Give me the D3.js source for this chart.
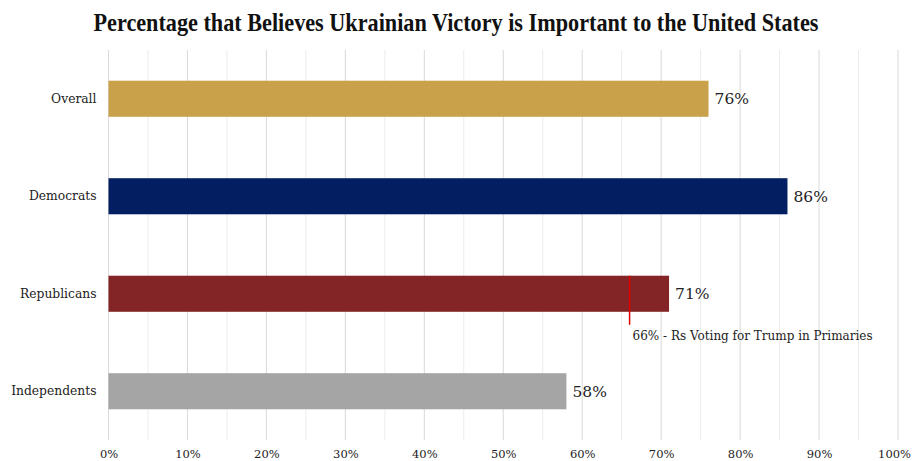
<!DOCTYPE html>
<html>
<head>
<meta charset="utf-8">
<script src="https://cdn.jsdelivr.net/npm/d3@7"></script>
<style>
  body { margin: 0; background: #fff; }
  text { font-family: "DejaVu Serif", serif; fill: #222; }
</style>
</head>
<body>
<div class="canvas"></div>
<script>
const categories = ['Overall', 'Democrats', 'Republicans', 'Independents'];
const values = [76, 86, 71, 58];
const colors = ['#C9A14A', '#031F62', '#832427', '#A5A5A5'];
const tickValues = [0, 10, 20, 30, 40, 50, 60, 70, 80, 90, 100];
const minorTicks = [5, 15, 25, 35, 45, 55, 65, 75, 85, 95];
const marker = {category: 'Republicans', value: 66, label: '66% - Rs Voting for Trump in Primaries'};
const title = 'Percentage that Believes Ukrainian Victory is Important to the United States';

const width = 912, height = 461;
const margin = {top: 50, right: 14, bottom: 21, left: 108.5};
const graphWidth = width - margin.left - margin.right;
const graphHeight = height - margin.top - margin.bottom;

const svg = d3.select('.canvas')
  .append('svg')
    .attr('width', width)
    .attr('height', height);

svg.append('text')
  .attr('x', width / 2)
  .attr('y', 31)
  .attr('text-anchor', 'middle')
  .attr('textLength', 725)
  .attr('lengthAdjust', 'spacingAndGlyphs')
  .style('font-family', '"Liberation Serif", serif')
  .style('font-weight', 'bold')
  .style('font-size', '25px')
  .style('fill', '#111')
  .text(title);

const graph = svg.append('g')
  .attr('transform', `translate(${margin.left}, ${margin.top})`);

const x = d3.scaleLinear()
  .domain([0, 100])
  .range([0, graphWidth]);

const y = d3.scaleBand()
  .domain(categories)
  .range([0, graphHeight])
  .paddingInner(0.63)
  .paddingOuter(0.315);

// gridlines
graph.selectAll('line.minor')
  .data(minorTicks)
  .enter().append('line')
    .attr('class', 'minor')
    .attr('x1', d => x(d)).attr('x2', d => x(d))
    .attr('y1', 0).attr('y2', graphHeight)
    .attr('stroke', '#ececec')
    .attr('stroke-width', 1);

graph.selectAll('line.major')
  .data(tickValues)
  .enter().append('line')
    .attr('class', 'major')
    .attr('x1', d => x(d)).attr('x2', d => x(d))
    .attr('y1', 0).attr('y2', graphHeight)
    .attr('stroke', '#d9d9d9')
    .attr('stroke-width', 1);

// bars
graph.selectAll('rect.bar')
  .data(categories)
  .enter().append('rect')
    .attr('class', 'bar')
    .attr('x', x(0))
    .attr('y', d => y(d))
    .attr('width', (d, i) => x(values[i]) - x(0))
    .attr('height', y.bandwidth())
    .attr('fill', (d, i) => colors[i]);

// value labels
graph.selectAll('text.value')
  .data(categories)
  .enter().append('text')
    .attr('class', 'value')
    .attr('x', (d, i) => x(values[i]) + 6)
    .attr('y', d => y(d) + y.bandwidth() / 2)
    .attr('dy', '0.35em')
    .style('font-size', '15.5px')
    .text((d, i) => values[i] + '%');

// marker line
const my = y(marker.category);
graph.append('line')
  .attr('x1', x(marker.value)).attr('x2', x(marker.value))
  .attr('y1', my).attr('y2', my + y.bandwidth() + 13)
  .attr('stroke', '#E00000')
  .attr('stroke-width', 1.5);

graph.append('text')
  .attr('x', x(marker.value) + 3)
  .attr('y', my + y.bandwidth() + 24)
  .attr('dy', '0.35em')
  .style('font-size', '12px')
  .text(marker.label);

// axes
const yAxis = d3.axisLeft(y).tickSize(0).tickPadding(12);
const yAxisGroup = graph.append('g').call(yAxis);
yAxisGroup.select('.domain').remove();
yAxisGroup.selectAll('text')
  .style('font-family', '"DejaVu Serif", serif')
  .style('font-size', '12.3px')
  .style('fill', '#222');

const xAxis = d3.axisBottom(x).tickValues(tickValues).tickSize(0).tickPadding(10)
  .tickFormat(d => d + '%');
const xAxisGroup = graph.append('g')
  .attr('transform', `translate(0, ${graphHeight})`)
  .call(xAxis);
xAxisGroup.select('.domain').remove();
xAxisGroup.selectAll('text')
  .style('font-family', '"DejaVu Serif", serif')
  .style('font-size', '11.5px')
  .style('fill', '#222');
// keep the last label inside the window
xAxisGroup.selectAll('.tick')
  .filter(d => d === 100)
  .select('text')
    .attr('dx', -4);
</script>
</body>
</html>
